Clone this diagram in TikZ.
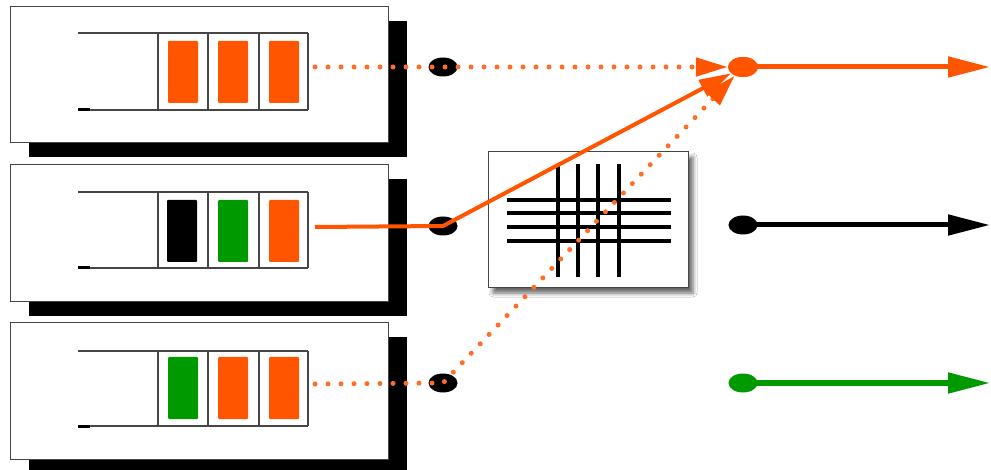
\documentclass[tikz,border=0pt]{standalone}
\usetikzlibrary{arrows.meta,shapes.geometric,shadows,shadows.blur}
\definecolor{sigorange}{RGB}{255,85,0}
\definecolor{siggreen}{RGB}{0,153,0}
\definecolor{framegray}{RGB}{70,70,70}

\begin{document}
\begin{tikzpicture}[x=1pt,y=-1pt,
  panel/.style={draw=framegray, line width=1pt, fill=white, minimum width=378pt,
    inner sep=0pt,
    drop shadow={shadow xshift=19pt, shadow yshift=-14pt, fill=black, opacity=1}},
  slotline/.style={draw=framegray, line width=1.3pt},
  bar/.style={rectangle, inner sep=0pt, minimum width=30pt, minimum height=62pt,
    rounded corners=1pt, fill=#1},
  junction/.style={ellipse, fill=#1, inner sep=0pt, minimum width=29pt, minimum height=19pt},
  dotsig/.style={draw=sigorange!85!white, line width=5pt, line cap=round, dash pattern=on 0pt off 13pt},
  solsig/.style={draw=sigorange, line width=4pt},
  inhead/.style={-{Triangle[length=32pt,width=18pt,color=sigorange]}},
  outarrow/.style={line width=5pt, -{Triangle[length=42pt,width=20pt]}},
  xbox/.style={draw=framegray, line width=1pt, fill=white, inner sep=0pt,
    minimum width=200pt, minimum height=136pt,
    blur shadow={shadow xshift=5pt, shadow yshift=-5pt, shadow blur radius=4pt,
      shadow opacity=60}},
  xbar/.style={line width=4pt, black}
]
\clip (0,0) rectangle (991,470);
\fill[white] (0,0) rectangle (991,470);

% three input panels with their black drop shadows
\node[panel, minimum height=136pt] (pA) at (199,75) {};
\node[panel, minimum height=137pt] (pB) at (199,233.5) {};
\node[panel, minimum height=136pt] (pC) at (199,391) {};

% slot frames inside each panel
\foreach \t/\b in {33/110,192/268,351/426}{
  \draw[slotline] (78,\t) -- (308,\t);
  \draw[slotline] (78,\b) -- (308,\b);
  \foreach \x in {158,208,259,308}
    \draw[slotline] (\x,\t) -- (\x,\b);
  \draw[line width=3pt, black] (78,\b) -- (90,\b);
}

% coloured cells
\node[bar=sigorange] (a1) at (183,72) {};
\node[bar=sigorange] (a2) at (233,72) {};
\node[bar=sigorange] (a3) at (284,72) {};
\node[bar=black]     (b1) at (182,231) {};
\node[bar=siggreen]  (b2) at (233,231) {};
\node[bar=sigorange] (b3) at (284,231) {};
\node[bar=siggreen]  (c1) at (183,388) {};
\node[bar=sigorange] (c2) at (233,388) {};
\node[bar=sigorange] (c3) at (284,388) {};

% crossbar switch
\node[xbox] (xb) at (588,220) {};
\foreach \x in {558,578,598,619}
  \draw[xbar] (\x,164) -- (\x,277);
\foreach \y in {200,213,227,241}
  \draw[xbar] (507,\y) -- (671,\y);

% input junctions
\node[junction=black] (dA) at (443,67) {};
\node[junction=black] (dB) at (443,226) {};
\node[junction=black] (dC) at (443,383) {};

% output junctions
\node[junction=sigorange, minimum width=30pt, minimum height=20pt] (oA) at (743,67) {};
\node[junction=black] (oB) at (743,225) {};
\node[junction=siggreen] (oC) at (743,383) {};

% panel outputs
\coordinate (sA) at (315,67);
\coordinate (sB) at (315,227);
\coordinate (sC) at (315,384);

% output ends
\coordinate (eA) at (990,67);
\coordinate (eB) at (990,225);
\coordinate (eC) at (990,383);

% routed signals
\draw[dotsig, inhead] (sA) -- (dA.center) -- (oA);
\draw[dotsig, inhead] (sC) -- (dC.center) -- (oA);
\draw[solsig, inhead] (sB) -- (dB.center) -- (oA);

% outputs
\draw[outarrow, sigorange] (oA.center) -- (eA);
\draw[outarrow, black] (oB.center) -- (eB);
\draw[outarrow, siggreen] (oC.center) -- (eC);
\node[junction=sigorange, minimum width=30pt, minimum height=20pt] at (oA) {};
\end{tikzpicture}
\end{document}
